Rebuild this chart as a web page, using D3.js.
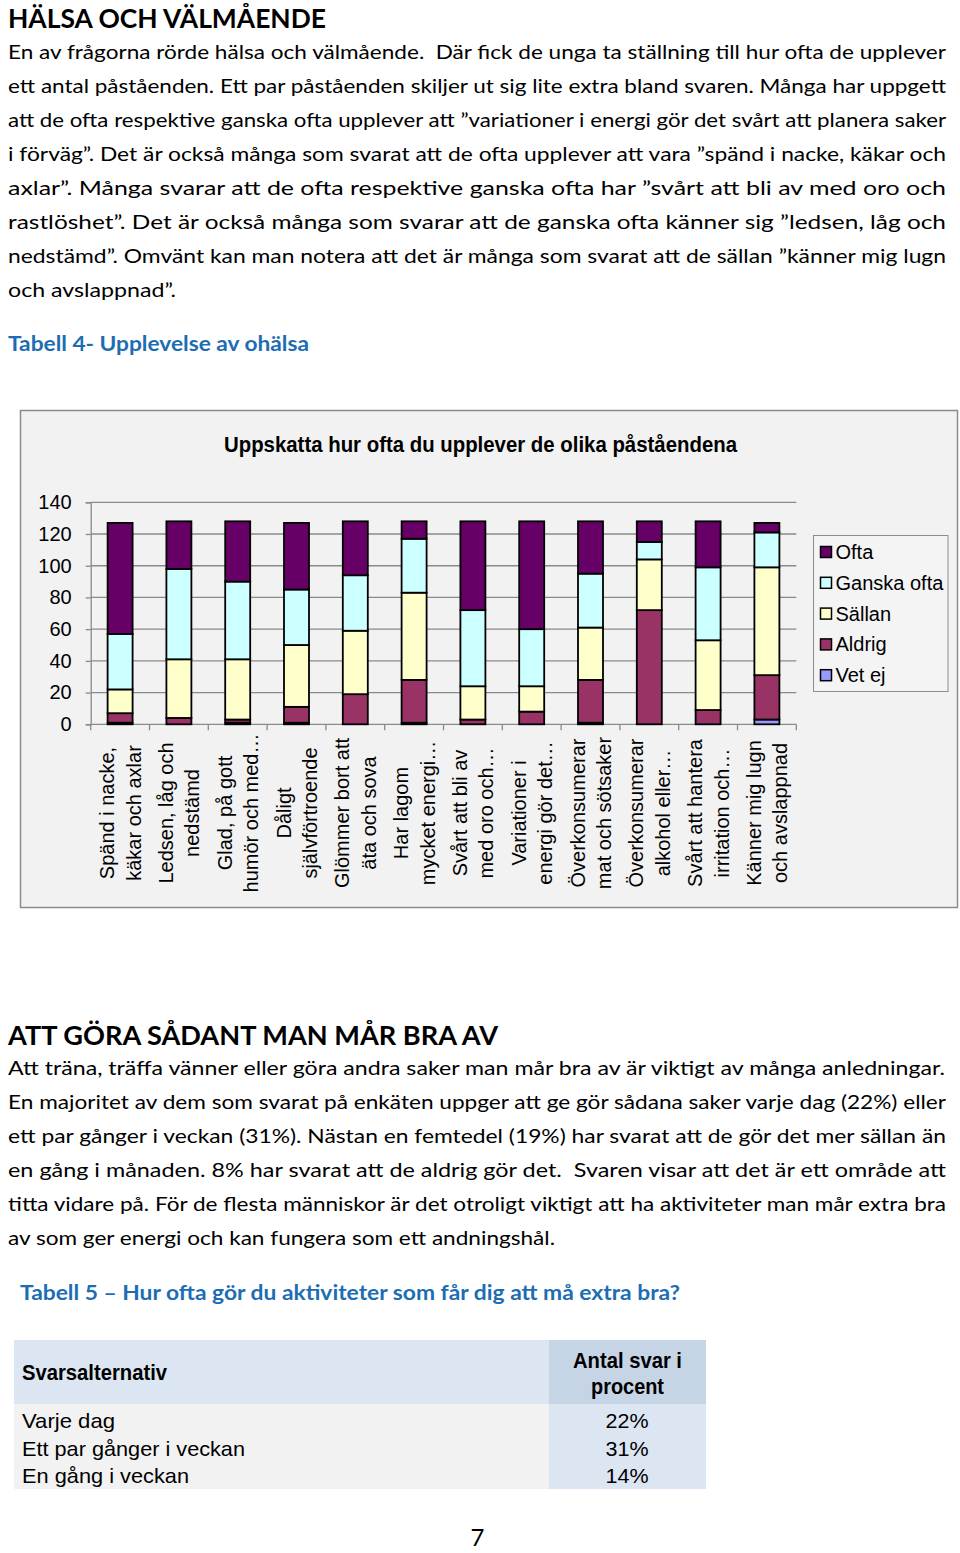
<!DOCTYPE html>
<html><head><meta charset="utf-8">
<script src="https://cdn.jsdelivr.net/npm/d3@7/dist/d3.min.js"></script>
<style>body{margin:0;background:#fff}svg{display:block}text{white-space:pre}</style>
</head><body>
<svg id="page" width="960" height="1553"></svg>
<script>
// ---------- data ----------
const categories = [
  ["Spänd i nacke,", "käkar och axlar"],
  ["Ledsen, låg och", "nedstämd"],
  ["Glad, på gott", "humör och med…"],
  ["Dåligt", "självförtroende"],
  ["Glömmer bort att", "äta och sova"],
  ["Har lagom", "mycket energi…"],
  ["Svårt att bli av", "med oro och…"],
  ["Variationer i", "energi gör det…"],
  ["Överkonsumerar", "mat och sötsaker"],
  ["Överkonsumerar", "alkohol eller…"],
  ["Svårt att hantera", "irritation och…"],
  ["Känner mig lugn", "och avslappnad"]
];
const seriesNames = ["Vet ej", "Aldrig", "Sällan", "Ganska ofta", "Ofta"];
const vetEj      = [1, 0, 1, 1, 0, 1, 0, 0, 1, 0, 0, 3];
const aldrig     = [6, 4, 2, 10, 19, 27, 3, 8, 27, 72, 9, 28];
const sallan     = [15, 37, 38, 39, 40, 55, 21, 16, 33, 32, 44, 68];
const ganskaOfta = [35, 57, 49, 35, 35, 34, 48, 36, 34, 11, 46, 22];
const ofta       = [70, 30, 38, 42, 34, 11, 56, 68, 33, 13, 29, 6];
const yTicks = [0, 20, 40, 60, 80, 100, 120, 140];
const legendOrder = ["Ofta", "Ganska ofta", "Sällan", "Aldrig", "Vet ej"];
const colors = {"Ofta":"#660066","Ganska ofta":"#ccffff","Sällan":"#ffffcc","Aldrig":"#993366","Vet ej":"#9999ff"};

const tableRows = ["Varje dag", "Ett par gånger i veckan", "En gång i veckan"];
const tablePct  = ["22%", "31%", "14%"];

const para1 = [
  "En av frågorna rörde hälsa och välmående.  Där fick de unga ta ställning till hur ofta de upplever",
  "ett antal påståenden. Ett par påståenden skiljer ut sig lite extra bland svaren. Många har uppgett",
  "att de ofta respektive ganska ofta upplever att ”variationer i energi gör det svårt att planera saker",
  "i förväg”. Det är också många som svarat att de ofta upplever att vara ”spänd i nacke, käkar och",
  "axlar”. Många svarar att de ofta respektive ganska ofta har ”svårt att bli av med oro och",
  "rastlöshet”. Det är också många som svarar att de ganska ofta känner sig ”ledsen, låg och",
  "nedstämd”. Omvänt kan man notera att det är många som svarat att de sällan ”känner mig lugn",
  "och avslappnad”."
];
const para1W = [938,938,938,938,938,938,938,168];
const para2 = [
  "Att träna, träffa vänner eller göra andra saker man mår bra av är viktigt av många anledningar.",
  "En majoritet av dem som svarat på enkäten uppger att ge gör sådana saker varje dag (22%) eller",
  "ett par gånger i veckan (31%). Nästan en femtedel (19%) har svarat att de gör det mer sällan än",
  "en gång i månaden. 8% har svarat att de aldrig gör det.  Svaren visar att det är ett område att",
  "titta vidare på. För de flesta människor är det otroligt viktigt att ha aktiviteter man mår extra bra",
  "av som ger energi och kan fungera som ett andningshål."
];
const para2W = [937,938,938,938,938,547];

// ---------- page ----------
const svg = d3.select("#page");
const body = "Lato, 'Open Sans', sans-serif";
const arial = "'Liberation Sans', Arial, sans-serif";

function txt(g, s, x, y, opts) {
  const t = g.append("text").attr("x", x).attr("y", y).text(s)
    .attr("font-family", opts.ff || body).attr("font-size", opts.fs || 19)
    .attr("fill", opts.fill || "#000");
  if (opts.fw) t.attr("font-weight", opts.fw);
  if (opts.anchor) t.attr("text-anchor", opts.anchor);
  if (opts.len) t.attr("textLength", opts.len).attr("lengthAdjust", "spacingAndGlyphs");
  return t;
}

txt(svg, "HÄLSA OCH VÄLMÅENDE", 8, 28, {fs: 26.5, fw: 700, len: 318});
para1.forEach((s, i) => txt(svg, s, 8, 59 + i * 34, {fs: 20, len: para1W[i]}));
txt(svg, "Tabell 4- Upplevelse av ohälsa", 8, 351, {fs: 20.5, fw: 700, fill: "#1d6db3", len: 301});

// ---------- chart ----------
const cg = svg.append("g");
cg.append("rect").attr("x", 20.5).attr("y", 410.5).attr("width", 937).attr("height", 497)
  .attr("fill", "#f2f2f2").attr("stroke", "#8c8c8c").attr("stroke-width", 1.5);

txt(cg, "Uppskatta hur ofta du upplever de olika påståendena", 480.5, 452,
    {ff: arial, fs: 21.5, fw: 700, anchor: "middle", len: 513});

const x0 = 90.7, x1 = 796.3, yBottom = 724.3, yTop = 502.3;
const y = d3.scaleLinear().domain([0, 140]).range([yBottom, yTop]);
const idx = categories.map((d, i) => i);
const xSlot = d3.scaleBand().domain(idx).range([x0, x1]).padding(0);
const xBar = d3.scaleBand().domain(idx).range([x0, x1]).paddingInner(0.575).paddingOuter(0.2875);

// gridlines
cg.append("g").selectAll("line").data(yTicks.filter(v => v > 0)).join("line")
  .attr("x1", x0).attr("x2", x1).attr("y1", d => y(d)).attr("y2", d => y(d))
  .attr("stroke", "#8a8a8a").attr("stroke-width", 1.3);

// y axis
const yAxis = d3.axisLeft(y).tickValues(yTicks).tickSize(5).tickPadding(14);
const ya = cg.append("g").attr("transform", `translate(${x0},0)`).call(yAxis);
ya.select(".domain").attr("stroke", "#8a8a8a").attr("stroke-width", 1.3);
ya.selectAll(".tick line").attr("stroke", "#8a8a8a").attr("stroke-width", 1.3);
ya.selectAll(".tick text").attr("font-family", arial).attr("font-size", 20).attr("fill", "#000");

// x axis line + ticks at boundaries
const bounds = idx.map(i => xSlot(i)).concat([x1]);
cg.append("line").attr("x1", x0).attr("x2", x1).attr("y1", yBottom).attr("y2", yBottom)
  .attr("stroke", "#8a8a8a").attr("stroke-width", 1.3);
cg.append("g").selectAll("line").data(bounds).join("line")
  .attr("x1", d => d).attr("x2", d => d).attr("y1", yBottom).attr("y2", yBottom + 6)
  .attr("stroke", "#8a8a8a").attr("stroke-width", 1.3);

// stacked bars
const rows = idx.map(i => ({i, "Vet ej": vetEj[i], "Aldrig": aldrig[i], "Sällan": sallan[i], "Ganska ofta": ganskaOfta[i], "Ofta": ofta[i]}));
const stacked = d3.stack().keys(seriesNames)(rows);
const bars = cg.append("g");
stacked.forEach(layer => {
  bars.append("g").attr("fill", colors[layer.key]).selectAll("rect")
    .data(layer.filter(d => d[1] - d[0] > 0)).join("rect")
    .attr("x", d => xBar(d.data.i)).attr("width", xBar.bandwidth())
    .attr("y", d => y(d[1])).attr("height", d => y(d[0]) - y(d[1]))
    .attr("stroke", "#000").attr("stroke-width", 1.8);
});

// category labels
const lab = cg.append("g");
categories.forEach((lines, i) => {
  const cx = xSlot(i) + xSlot.bandwidth() / 2;
  const offs = [-6, 20.5];
  lines.forEach((s, j) => {
    lab.append("text").attr("transform", `translate(${cx + offs[j]},813) rotate(-90)`)
      .attr("text-anchor", "middle").attr("font-family", arial).attr("font-size", 20)
      .attr("fill", "#000").text(s);
  });
});

// legend
const lg = cg.append("g");
lg.append("rect").attr("x", 813.5).attr("y", 535.5).attr("width", 134.5).attr("height", 156)
  .attr("fill", "#f4f4f4").attr("stroke", "#8c8c8c").attr("stroke-width", 1);
legendOrder.forEach((k, i) => {
  const cy = 552 + i * 30.8;
  lg.append("rect").attr("x", 820.5).attr("y", cy - 5.5).attr("width", 11).attr("height", 11)
    .attr("fill", colors[k]).attr("stroke", "#000").attr("stroke-width", 1.5);
  txt(lg, k, 835.5, cy + 7, {ff: arial, fs: 20});
});

// ---------- section 2 ----------
txt(svg, "ATT GÖRA SÅDANT MAN MÅR BRA AV", 8, 1045, {fs: 26.5, fw: 700, len: 490});
para2.forEach((s, i) => txt(svg, s, 8, 1075 + i * 34, {fs: 20, len: para2W[i]}));
txt(svg, "Tabell 5 – Hur ofta gör du aktiviteter som får dig att må extra bra?", 20, 1300,
    {fs: 20.5, fw: 700, fill: "#1d6db3", len: 660});

// table
const tg = svg.append("g");
tg.append("rect").attr("x", 14).attr("y", 1340).attr("width", 535).attr("height", 64).attr("fill", "#dce6f2");
tg.append("rect").attr("x", 549).attr("y", 1340).attr("width", 157).attr("height", 64).attr("fill", "#c6d5e6");
tg.append("rect").attr("x", 14).attr("y", 1404).attr("width", 535).attr("height", 85).attr("fill", "#f2f2f2");
tg.append("rect").attr("x", 549).attr("y", 1404).attr("width", 157).attr("height", 85).attr("fill", "#dce6f2");
txt(tg, "Svarsalternativ", 22, 1380, {ff: arial, fs: 21.5, fw: 700, len: 145});
txt(tg, "Antal svar i", 627.5, 1368, {ff: arial, fs: 21.5, fw: 700, anchor: "middle", len: 109});
txt(tg, "procent", 627.5, 1394, {ff: arial, fs: 21.5, fw: 700, anchor: "middle", len: 73});
const rowW = [93, 223, 167];
tableRows.forEach((s, i) => {
  txt(tg, s, 22, 1428 + i * 27.5, {ff: arial, fs: 21, len: rowW[i]});
  txt(tg, tablePct[i], 627, 1428 + i * 27.5, {ff: arial, fs: 21, anchor: "middle", len: 43});
});

txt(svg, "7", 477.5, 1546, {fs: 24, anchor: "middle"});
</script>
</body></html>
